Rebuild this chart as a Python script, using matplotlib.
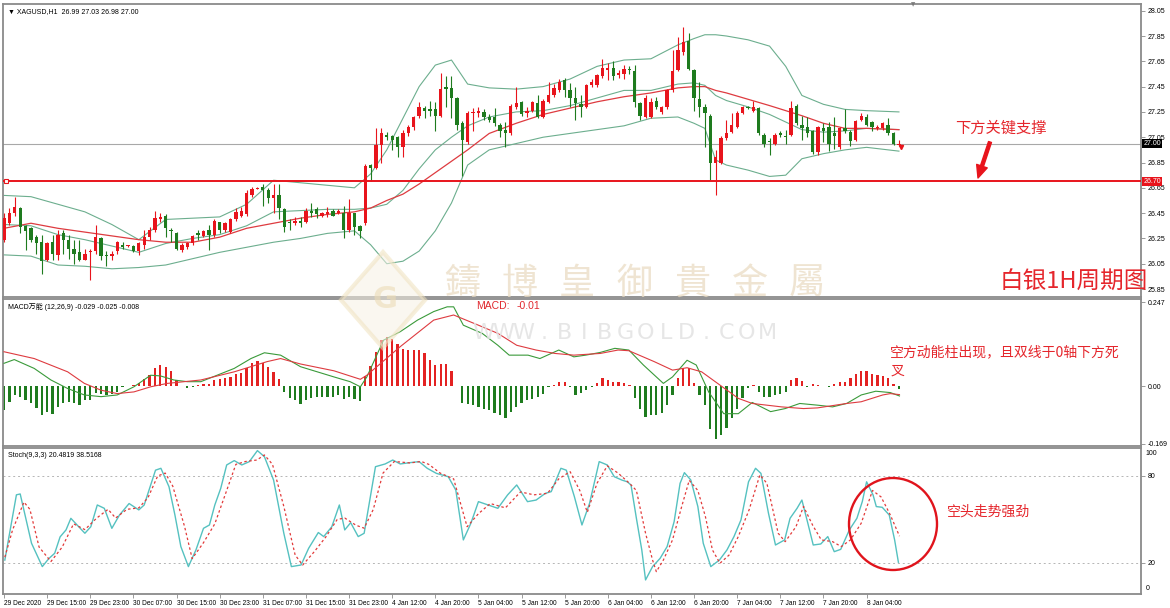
import numpy as np
import matplotlib
matplotlib.use('Agg')
import matplotlib.pyplot as plt
from matplotlib.patches import Ellipse, Polygon
from matplotlib.transforms import blended_transform_factory

plt.rcParams['font.family'] = ['DejaVu Sans', 'Noto Sans CJK SC']

# ---- XAGUSD H1 candles (bar 0 = 29 Dec 2020 07:00) ----
opens = [26.24, 26.37, 26.45, 26.49, 26.35, 26.33, 26.26, 26.22, 26.08, 26.22,
         26.12, 26.29, 26.24, 26.17, 26.14, 26.08, 26.14, 26.15, 26.25, 26.12,
         26.11, 26.15, 26.20, 26.19, 26.19, 26.15, 26.20, 26.26, 26.32, 26.40,
         26.43, 26.32, 26.29, 26.16, 26.18, 26.21, 26.29, 26.27, 26.32, 26.28,
         26.38, 26.32, 26.30, 26.40, 26.43, 26.44, 26.59, 26.64, 26.66, 26.63,
         26.57, 26.59, 26.48, 26.38, 26.37, 26.39, 26.38, 26.47, 26.48, 26.43,
         26.44, 26.47, 26.45, 26.45, 26.32, 26.45, 26.35, 26.37, 26.83, 26.81,
         26.99, 27.07, 27.06, 27.05, 26.97, 27.08, 27.13, 27.22, 27.28, 27.27,
         27.27, 27.22, 27.45, 27.44, 27.36, 27.16, 27.01, 27.24, 27.24, 27.25,
         27.21, 27.21, 27.15, 27.11, 27.08, 27.29, 27.33, 27.24, 27.26, 27.32,
         27.21, 27.33, 27.38, 27.42, 27.50, 27.42, 27.36, 27.31, 27.29, 27.46,
         27.46, 27.53, 27.58, 27.60, 27.54, 27.55, 27.59, 27.57, 27.32, 27.21,
         27.21, 27.34, 27.25, 27.29, 27.42, 27.58, 27.72, 27.81, 27.58, 27.35,
         27.29, 27.22, 26.85, 26.85, 27.04, 27.09, 27.13, 27.24, 27.29, 27.26,
         27.28, 27.07, 27.02, 27.00, 27.08, 27.06, 27.07, 27.30, 27.15, 27.13,
         27.10, 26.93, 27.12, 27.13, 27.08, 26.97, 27.12, 27.09, 27.03, 27.19,
         27.21, 27.17, 27.12, 27.12, 27.15, 27.08, 26.99]
highs = [26.45, 26.49, 26.58, 26.50, 26.36, 26.34, 26.28, 26.28, 26.22, 26.28,
         26.32, 26.32, 26.28, 26.24, 26.24, 26.17, 26.17, 26.36, 26.26, 26.15,
         26.15, 26.23, 26.22, 26.20, 26.20, 26.22, 26.32, 26.34, 26.47, 26.45,
         26.44, 26.33, 26.30, 26.21, 26.22, 26.28, 26.32, 26.32, 26.36, 26.40,
         26.38, 26.38, 26.41, 26.49, 26.50, 26.63, 26.66, 26.66, 26.68, 26.65,
         26.68, 26.68, 26.49, 26.40, 26.42, 26.42, 26.49, 26.53, 26.50, 26.46,
         26.50, 26.48, 26.48, 26.51, 26.56, 26.45, 26.36, 26.84, 26.84, 27.12,
         27.12, 27.09, 27.07, 27.06, 27.11, 27.15, 27.22, 27.33, 27.30, 27.34,
         27.33, 27.56, 27.53, 27.53, 27.37, 27.18, 27.26, 27.28, 27.29, 27.27,
         27.23, 27.28, 27.16, 27.17, 27.31, 27.45, 27.34, 27.29, 27.34, 27.38,
         27.35, 27.49, 27.47, 27.51, 27.52, 27.48, 27.45, 27.38, 27.47, 27.51,
         27.55, 27.67, 27.64, 27.65, 27.58, 27.62, 27.61, 27.62, 27.33, 27.38,
         27.36, 27.37, 27.30, 27.43, 27.74, 27.84, 27.92, 27.87, 27.59, 27.49,
         27.31, 27.23, 26.95, 27.06, 27.19, 27.24, 27.26, 27.30, 27.30, 27.34,
         27.29, 27.08, 27.04, 27.08, 27.10, 27.11, 27.34, 27.31, 27.22, 27.21,
         27.11, 27.14, 27.16, 27.17, 27.21, 27.13, 27.27, 27.11, 27.19, 27.24,
         27.23, 27.18, 27.15, 27.17, 27.20, 27.09, 27.03]
lows = [26.22, 26.36, 26.43, 26.29, 26.16, 26.22, 26.13, 25.97, 26.07, 26.08,
        26.08, 26.13, 26.09, 26.05, 26.07, 26.08, 25.92, 26.13, 26.08, 26.03,
        26.08, 26.13, 26.17, 26.18, 26.14, 26.12, 26.17, 26.24, 26.30, 26.38,
        26.26, 26.22, 26.16, 26.14, 26.17, 26.20, 26.24, 26.26, 26.16, 26.26,
        26.29, 26.30, 26.29, 26.39, 26.42, 26.43, 26.58, 26.64, 26.51, 26.53,
        26.45, 26.40, 26.30, 26.32, 26.36, 26.34, 26.37, 26.42, 26.41, 26.42,
        26.42, 26.43, 26.44, 26.25, 26.30, 26.28, 26.25, 26.36, 26.70, 26.80,
        26.85, 27.03, 26.95, 26.89, 26.89, 27.06, 27.11, 27.20, 27.20, 27.22,
        27.10, 27.21, 27.29, 27.20, 27.11, 26.74, 27.00, 27.10, 27.21, 27.19,
        27.17, 27.14, 27.05, 26.97, 27.07, 27.27, 27.22, 27.21, 27.25, 27.20,
        27.20, 27.32, 27.37, 27.41, 27.37, 27.29, 27.19, 27.21, 27.28, 27.45,
        27.45, 27.52, 27.50, 27.50, 27.52, 27.51, 27.55, 27.29, 27.19, 27.20,
        27.20, 27.27, 27.23, 27.27, 27.41, 27.57, 27.70, 27.58, 27.26, 27.21,
        26.97, 26.71, 26.59, 26.84, 27.03, 27.08, 27.12, 27.23, 27.27, 27.25,
        27.07, 26.97, 26.91, 26.99, 27.05, 27.00, 27.06, 27.15, 27.03, 27.05,
        26.92, 26.91, 27.01, 26.94, 26.96, 26.96, 27.08, 26.98, 27.02, 27.18,
        27.14, 27.10, 27.11, 27.11, 27.07, 26.99, 26.98]
closes = [26.41, 26.45, 26.50, 26.34, 26.31, 26.24, 26.21, 26.07, 26.21, 26.13,
          26.28, 26.24, 26.17, 26.13, 26.08, 26.13, 26.15, 26.26, 26.11, 26.11,
          26.13, 26.22, 26.18, 26.20, 26.15, 26.21, 26.26, 26.32, 26.41, 26.42,
          26.33, 26.31, 26.17, 26.20, 26.21, 26.27, 26.28, 26.31, 26.28, 26.39,
          26.32, 26.37, 26.40, 26.46, 26.47, 26.61, 26.64, 26.65, 26.63, 26.57,
          26.59, 26.49, 26.34, 26.37, 26.39, 26.37, 26.47, 26.45, 26.44, 26.45,
          26.46, 26.43, 26.47, 26.32, 26.45, 26.34, 26.31, 26.82, 26.81, 26.99,
          27.08, 27.05, 27.03, 26.97, 27.08, 27.13, 27.21, 27.29, 27.26, 27.26,
          27.22, 27.43, 27.43, 27.36, 27.15, 27.03, 27.24, 27.25, 27.26, 27.21,
          27.19, 27.16, 27.10, 27.08, 27.30, 27.32, 27.23, 27.26, 27.33, 27.21,
          27.34, 27.38, 27.44, 27.49, 27.42, 27.36, 27.32, 27.29, 27.46, 27.49,
          27.54, 27.60, 27.60, 27.53, 27.56, 27.59, 27.58, 27.33, 27.22, 27.36,
          27.33, 27.29, 27.29, 27.42, 27.57, 27.74, 27.80, 27.59, 27.36, 27.29,
          27.24, 26.85, 26.89, 27.04, 27.08, 27.15, 27.24, 27.29, 27.28, 27.29,
          27.08, 27.00, 27.01, 27.07, 27.07, 27.05, 27.28, 27.16, 27.12, 27.08,
          26.93, 27.13, 27.10, 27.00, 27.06, 27.12, 27.10, 27.02, 27.18, 27.22,
          27.15, 27.13, 27.13, 27.16, 27.08, 27.00, 27.00]

# Bollinger bands + red moving average, read at these bars
band_x = [0, 5, 10, 15, 20, 25, 30, 35, 40, 45, 50, 55, 60, 65, 68, 71, 74, 77, 80, 83,
          86, 90, 95, 100, 105, 110, 115, 120, 125, 128, 130, 132, 134, 138, 142, 145,
          148, 152, 156, 160, 166]
bb_upper = [26.59, 26.58, 26.52, 26.46, 26.36, 26.24, 26.40, 26.41, 26.42, 26.52, 26.71,
            26.69, 26.67, 26.65, 26.76, 26.95, 27.20, 27.45, 27.62, 27.66, 27.47, 27.44,
            27.43, 27.45, 27.51, 27.61, 27.66, 27.67, 27.78, 27.83, 27.86, 27.86, 27.85,
            27.82, 27.77, 27.61, 27.38, 27.31, 27.27, 27.26, 27.25]
bb_mid = [26.36, 26.35, 26.28, 26.24, 26.19, 26.14, 26.21, 26.25, 26.28, 26.35, 26.46,
          26.47, 26.48, 26.48, 26.49, 26.52, 26.63, 26.80, 26.95, 27.05, 27.14, 27.21,
          27.25, 27.26, 27.30, 27.36, 27.42, 27.42, 27.47, 27.48, 27.46, 27.38, 27.34,
          27.29, 27.23, 27.17, 27.11, 27.09, 27.10, 27.12, 27.11]
bb_lower = [26.12, 26.11, 26.04, 26.03, 26.01, 26.02, 26.04, 26.09, 26.14, 26.18, 26.22,
            26.25, 26.29, 26.31, 26.20, 26.05, 26.07, 26.15, 26.31, 26.53, 26.83, 26.95,
            27.00, 27.05, 27.08, 27.11, 27.14, 27.20, 27.21, 27.16, 27.12, 26.87, 26.83,
            26.79, 26.74, 26.75, 26.88, 26.92, 26.95, 26.97, 26.94]
ma_red = [26.33, 26.37, 26.33, 26.30, 26.27, 26.24, 26.22, 26.22, 26.26, 26.33, 26.37,
          26.41, 26.44, 26.46, 26.49, 26.55, 26.60, 26.68, 26.77, 26.86, 26.95, 27.08,
          27.16, 27.23, 27.28, 27.33, 27.37, 27.40, 27.44, 27.45, 27.45, 27.42, 27.40,
          27.35, 27.30, 27.26, 27.22, 27.16, 27.12, 27.12, 27.11]

# MACD histogram, one value per bar
macd_hist = [-0.070, -0.046, -0.026, -0.031, -0.041, -0.051, -0.063, -0.085, -0.075, -0.082,
             -0.061, -0.051, -0.046, -0.051, -0.056, -0.041, -0.041, -0.021, -0.023, -0.026,
             -0.023, -0.016, -0.003, 0.001, 0.002, 0.008, 0.020, 0.033, 0.052, 0.062,
             0.057, 0.045, 0.018, 0.001, -0.007, -0.002, 0.003, 0.005, 0.007, 0.017,
             0.020, 0.023, 0.028, 0.036, 0.040, 0.052, 0.068, 0.073, 0.068, 0.055,
             0.042, 0.020, -0.016, -0.036, -0.041, -0.053, -0.041, -0.036, -0.033, -0.031,
             -0.033, -0.031, -0.026, -0.039, -0.031, -0.039, -0.043, 0.030, 0.059, 0.101,
             0.135, 0.143, 0.137, 0.125, 0.110, 0.105, 0.105, 0.105, 0.096, 0.078,
             0.062, 0.066, 0.066, 0.044, 0.001, -0.051, -0.054, -0.056, -0.061, -0.066,
             -0.071, -0.080, -0.085, -0.095, -0.075, -0.061, -0.051, -0.041, -0.038, -0.031,
             -0.022, -0.004, 0.003, 0.013, 0.012, -0.004, -0.026, -0.019, -0.012, -0.004,
             0.008, 0.023, 0.018, 0.013, 0.011, 0.008, 0.002, -0.036, -0.066, -0.090,
             -0.085, -0.085, -0.080, -0.056, -0.026, 0.023, 0.054, 0.052, 0.008, -0.026,
             -0.056, -0.125, -0.154, -0.144, -0.123, -0.095, -0.066, -0.036, -0.007, 0.003,
             -0.017, -0.031, -0.031, -0.026, -0.022, -0.017, 0.018, 0.023, 0.015, -0.003,
             0.005, 0.003, 0.001, -0.002, 0.005, 0.011, 0.011, 0.023, 0.037, 0.044,
             0.044, 0.037, 0.034, 0.030, 0.023, 0.005, -0.008]

macd_x = [0, 1.9, 5.6, 8.7, 11.8, 14.9, 18, 21, 24.1, 27.2, 29, 31.5, 34, 36.5, 42.7,
          45.8, 48.3, 51.3, 55, 58.1, 61.2, 64.2, 66.1, 67.3, 70.4, 73.5, 76.7, 79.7,
          82.2, 83.4, 85.2, 88.7, 91.6, 93.7, 97.2, 99.4, 102.9, 105.7, 107.9, 110.6,
          113.3, 115.9, 118.6, 122.3, 124, 126.7, 128.4, 130.7, 133.5, 136.2, 138.8,
          142.2, 144.9, 147.6, 150.9, 153.7, 156.3, 159, 161.7, 164.4, 166.1]
macd_line = [0.067, 0.078, 0.052, 0.018, -0.007, -0.026, -0.031, -0.026, -0.002, 0.032,
             0.030, 0.018, 0.013, 0.013, 0.052, 0.081, 0.098, 0.091, 0.057, 0.042, 0.027,
             0.013, -0.002, 0.027, 0.135, 0.160, 0.194, 0.219, 0.233, 0.233, 0.179, 0.155,
             0.120, 0.091, 0.091, 0.081, 0.106, 0.086, 0.091, 0.099, 0.111, 0.106, 0.062,
             0.008, 0.027, 0.076, 0.062, -0.017, -0.081, -0.081, -0.048, -0.075, -0.066,
             -0.051, -0.056, -0.061, -0.051, -0.026, -0.015, -0.019, -0.029]
signal_x = [0, 5.6, 11.8, 14.9, 18, 21, 24.1, 27.2, 30.3, 33.4, 36.5, 42.7, 48.8, 51.3,
            55, 61.2, 66.1, 67.3, 73.5, 79.7, 83.4, 88, 91.6, 95.1, 98.7, 102.2, 105.7,
            110.6, 113.9, 115.9, 120.6, 124, 126.7, 129.4, 132.8, 136.2, 138.8, 144.2,
            148.3, 150.9, 156.3, 159, 163, 164.4, 166.1]
signal_line = [0.101, 0.081, 0.042, 0.008, -0.012, -0.022, -0.017, -0.002, 0.008, 0.013,
               0.018, 0.042, 0.072, 0.081, 0.065, 0.045, 0.020, 0.032, 0.116, 0.194,
               0.209, 0.179, 0.155, 0.120, 0.106, 0.096, 0.091, 0.096, 0.106, 0.104,
               0.072, 0.047, 0.054, 0.042, 0.003, -0.036, -0.051, -0.061, -0.066, -0.064,
               -0.051, -0.046, -0.026, -0.022, -0.025]

# Stochastic (9,3,3)
stoch_k_x = [0.15, 2.3, 3, 5.1, 7.1, 8.3, 9.4, 10.4, 11.5, 12.4, 13.6, 15, 16.1, 17.3,
             18.6, 20, 21.4, 23.2, 25, 26, 27.1, 28.1, 29.1, 30.6, 31.7, 32.8, 34.2, 35.6,
             37, 38.1, 39.1, 40.2, 41.3, 42.7, 44.1, 45.5, 47, 48.3, 50, 51.9, 53.3, 55.1,
             56.5, 58.3, 59.3, 60.8, 62.2, 63.2, 64.3, 65.7, 66.8, 68.9, 70.7, 72.1, 73.5,
             75.3, 77, 78.5, 80.2, 82.4, 83.8, 85.2, 86.6, 88, 89.8, 91.6, 93.4, 95.1,
             97.1, 98.7, 100.4, 101.5, 103.3, 104.3, 105.8, 107.2, 108.6, 110.4, 111.9,
             113.2, 114.6, 115.6, 116.3, 117.3, 118.3, 119, 120.3, 121.7, 123, 124.3,
             125.4, 126.2, 127.4, 128.7, 129.7, 131.1, 132.7, 134.1, 135.4, 136.7, 138.1,
             139.4, 140.4, 141.8, 143.1, 144.8, 145.8, 147.1, 148, 149.1, 150.1, 151.5,
             152.8, 154, 155.2, 156.8, 158.2, 159.2, 160, 161.2, 161.8, 162.9, 164.2,
             165.2, 165.9]
stoch_k = [22, 67, 67.6, 33.6, 17.5, 23, 26.7, 38, 42.8, 50.8, 46, 40.5, 45, 60, 57.7,
           43.9, 53, 61, 56.6, 60, 72.6, 84, 85.3, 72.6, 53.1, 31.3, 17.5, 29, 43.9, 46.2,
           60, 71.5, 87.6, 90.6, 87.6, 89.9, 97.5, 93.3, 77.2, 40.5, 17.5, 18.6, 30.1, 41,
           38.2, 45, 60, 42.8, 47.8, 38.2, 40.5, 86.4, 88.3, 91, 88.3, 89.2, 89.9, 85.3,
           81.8, 79.5, 70.3, 35.9, 47.4, 62.3, 60, 57.7, 66.9, 73.8, 62.3, 63.4, 68, 69.2,
           85.3, 84, 65.7, 46.2, 61, 89.9, 87.6, 79.5, 77.2, 76, 73.8, 50.8, 29, 8.3,
           17.5, 23.2, 31.3, 48.5, 74.9, 82.3, 77.2, 58.9, 33.6, 17.5, 22, 29, 38.2, 49.7,
           76, 85.3, 81.8, 54.3, 32.4, 35.9, 50.8, 57.7, 63.4, 47.4, 32.4, 33.1, 38.2,
           27.8, 29.4, 42.8, 50.8, 62.3, 76, 66.9, 58.9, 58.4, 53.1, 35.9, 20.5]
stoch_d_x = [0.15, 1.6, 3.7, 4.8, 6.5, 8.7, 10.8, 12.9, 15, 17.2, 19.3, 20.7, 22.8, 25,
             26.7, 28.5, 29.9, 31.3, 33.5, 34.9, 37, 39.1, 41.3, 43, 44.8, 46.9, 48.3,
             49.8, 51.9, 54, 55.4, 57.6, 59.7, 61.8, 63.2, 65.3, 66.8, 68.5, 70.3, 72.4,
             75.3, 77.4, 78.8, 80.9, 83.4, 85.9, 88, 90.2, 93, 95.8, 98.3, 100.8, 102.9,
             105, 106.8, 108.2, 110, 111.9, 113.9, 116, 117.3, 119, 120.3, 121, 122.3, 124,
             125.7, 127.1, 128.7, 130.1, 131.4, 132.8, 134.5, 136.2, 138.2, 140.2, 141.5,
             143.6, 144.9, 146.9, 148.3, 150, 151.6, 153.7, 155.3, 157, 159, 161.1, 162.7,
             164.4, 166.1]
stoch_d = [24, 43, 62, 57, 31, 21, 31, 47, 43, 51, 57, 51, 57, 58, 65, 80, 82, 73, 45, 23,
           34, 47, 70, 88, 90, 91, 94.5, 88, 59, 25.5, 18.6, 28, 38, 50, 51, 46, 44, 57, 82,
           90, 89, 90, 88, 82, 78, 45, 54, 61, 58, 69, 67, 68, 78, 83, 70, 55, 75, 87, 82,
           75, 70, 40.5, 22, 14, 22, 35.9, 58.9, 77, 70, 52, 29, 19.8, 25.5, 38.2, 56.6,
           80.7, 75, 40.5, 34.7, 45, 59, 46, 35.9, 34.7, 31.3, 35.9, 47.4, 70, 65.5, 53.1,
           38.5]

price_ticks = [28.05, 27.85, 27.65, 27.45, 27.25, 27.05, 26.85, 26.65, 26.45, 26.25, 26.05, 25.85]
time_pos = [0, 8, 16, 24, 32, 40, 48, 56, 64, 72, 80, 88, 96, 104, 112, 120, 128, 136, 144, 152, 160]
time_labels = ['29 Dec 2020', '29 Dec 15:00', '29 Dec 23:00', '30 Dec 07:00', '30 Dec 15:00',
               '30 Dec 23:00', '31 Dec 07:00', '31 Dec 15:00', '31 Dec 23:00', '4 Jan 12:00',
               '4 Jan 20:00', '5 Jan 04:00', '5 Jan 12:00', '5 Jan 20:00', '6 Jan 04:00',
               '6 Jan 12:00', '6 Jan 20:00', '7 Jan 04:00', '7 Jan 12:00', '7 Jan 20:00',
               '8 Jan 04:00']

last_price = 27.00
support = 26.70

RED = '#e8141c'
GREEN = '#1e7b1e'
BAND = '#6cae8e'
MA_RED = '#de3b40'
FRAME = '#8a8a8a'
NUM = 'Liberation Sans'
CJK = ['Noto Sans CJK SC', 'DejaVu Sans']

W, H = 1170, 608
fig = plt.figure(figsize=(W / 100, H / 100), dpi=100)
fig.patch.set_facecolor('white')


def fx(px):
    return px / W


def fy(py):
    return 1 - py / H


L, R = 3, 1141
ax1 = fig.add_axes([fx(L), fy(297), fx(R) - fx(L), fy(4) - fy(297)])
ax2 = fig.add_axes([fx(L), fy(446), fx(R) - fx(L), fy(299) - fy(446)])
ax3 = fig.add_axes([fx(L), fy(594), fx(R) - fx(L), fy(448) - fy(594)])

for ax in (ax1, ax2, ax3):
    ax.set_xlim(-0.19, 210.9)
    ax.yaxis.tick_right()
    ax.tick_params(axis='y', labelsize=5, length=3, width=0.6, color=FRAME, pad=2)
    for s in ax.spines.values():
        s.set_color(FRAME)
        s.set_linewidth(1.3)

# ---- price panel ----
o = np.array(opens)
c = np.array(closes)
idx = np.arange(len(c))
col = np.where(c >= o, RED, GREEN)
ax1.vlines(idx, lows, highs, colors=col, lw=0.8, zorder=3)
ax1.bar(idx, np.maximum(np.abs(c - o), 0.008), bottom=np.minimum(o, c), width=0.62,
        color=col, linewidth=0, zorder=4)

ax1.plot(band_x, bb_upper, color=BAND, lw=0.8, zorder=2)
ax1.plot(band_x, bb_lower, color=BAND, lw=0.8, zorder=2)
ax1.plot(band_x, bb_mid, color=BAND, lw=0.8, zorder=2)
ax1.plot(band_x, ma_red, color=MA_RED, lw=0.9, zorder=2)

ax1.axhline(last_price, color='#a8a8a8', lw=0.8, zorder=1)
ax1.axhline(support, color=RED, lw=1.4, zorder=5)
ax1.plot([0.3], [support], marker='s', ms=3, mfc='white', mec=RED, mew=0.8, zorder=6)
ax1.plot([166.4], [26.975], marker='v', ms=3, color=RED, zorder=6)

ax1.set_ylim(25.787, 28.103)
ax1.set_yticks(price_ticks)
ax1.set_yticklabels(['%.2f' % t for t in price_ticks], fontfamily=NUM)
ax1.set_xticks([])

tr = blended_transform_factory(ax1.transAxes, ax1.transData)
ax1.text(1.002, last_price, '%.2f' % last_price, transform=tr, fontsize=5, color='white',
         va='center', ha='left', fontfamily=NUM, zorder=10,
         bbox=dict(boxstyle='square,pad=0.15', fc='black', ec='none'))
ax1.text(1.002, support, '%.2f' % support, transform=tr, fontsize=5, color='white',
         va='center', ha='left', fontfamily=NUM, zorder=10,
         bbox=dict(boxstyle='square,pad=0.15', fc=RED, ec='none'))
ax1.text(0.004, 0.985, '\u25BC XAGUSD,H1  26.99 27.03 26.98 27.00', transform=ax1.transAxes,
         fontsize=5, va='top', ha='left', fontfamily=['Liberation Sans', 'DejaVu Sans'])

# ---- MACD panel ----
hist = np.array(macd_hist)
ax2.bar(np.arange(len(hist)), hist, width=0.42, color=np.where(hist >= 0, '#e32222', GREEN),
        linewidth=0, zorder=2)
ax2.plot(macd_x, macd_line, color='#3a9a3a', lw=0.8, zorder=3)
ax2.plot(signal_x, signal_line, color=MA_RED, lw=0.8, zorder=3)
ax2.set_ylim(-0.176, 0.256)
ax2.set_yticks([0.247, 0.0, -0.169])
ax2.set_yticklabels(['0.247', '0.00', '-0.169'], fontfamily=NUM)
ax2.set_xticks([])
ax2.text(0.004, 0.975, 'MACD万能 (12,26,9) -0.029 -0.025 -0.008', transform=ax2.transAxes,
         fontsize=5, va='top', ha='left', fontfamily=['Liberation Sans', 'Noto Sans CJK SC'])

# ---- Stochastic panel ----
ax3.axhline(80, color='#b5b5b5', lw=0.7, ls=(0, (2, 3)), zorder=1)
ax3.axhline(20, color='#b5b5b5', lw=0.7, ls=(0, (2, 3)), zorder=1)
ax3.plot(stoch_k_x, stoch_k, color='#55c1c0', lw=1.0, zorder=3)
ax3.plot(stoch_d_x, stoch_d, color='#e23a3a', lw=0.9, ls=(0, (2, 2)), zorder=3)
ax3.set_ylim(-1.4, 99.3)
ax3.set_yticks([80, 20])
ax3.set_yticklabels(['80', '20'], fontfamily=NUM)
ax3.text(1.004, 0.965, '100', transform=ax3.transAxes, fontsize=5, va='center', ha='left',
         fontfamily=NUM)
ax3.text(1.004, 0.04, '0', transform=ax3.transAxes, fontsize=5, va='center', ha='left',
         fontfamily=NUM)
ax3.set_xticks(time_pos)
ax3.set_xticklabels(time_labels, fontsize=4.8, ha='left', fontfamily=NUM)
ax3.tick_params(axis='x', length=3, width=0.6, color=FRAME, pad=1.5)
ax3.text(0.004, 0.975, 'Stoch(9,3,3) 20.4819 38.5168', transform=ax3.transAxes,
         fontsize=5, va='top', ha='left', fontfamily=NUM)

# ---- watermark (logo, company name, site) ----
fig.add_artist(Polygon([[fx(383), fy(252)], [fx(425), fy(300)], [fx(383), fy(348)], [fx(341), fy(300)]],
                       closed=True, transform=fig.transFigure, fc='#f7f1e5', ec='#f0e2bf',
                       lw=3, alpha=0.55, zorder=19))
fig.text(fx(385), fy(300), 'G', fontsize=22, color='#ecdcb6', alpha=0.6, ha='center',
         va='center', family='DejaVu Sans', fontweight='bold', zorder=20)
for k, ch in enumerate('鑄博皇御貴金屬'):
    fig.text(fx(462 + 57.5 * k), fy(284), ch, fontsize=26, color='#eadcc3', alpha=0.75,
             ha='center', va='center', family=['Noto Sans CJK TC', 'DejaVu Sans'], zorder=20)
for k, ch in enumerate('WWW.BIBGOLD.COM'):
    fig.text(fx(483 + 20.3 * k), fy(333), ch, fontsize=16, color='#e2e2e2', alpha=0.85,
             ha='center', va='center', family='DejaVu Sans', zorder=20)

# ---- annotations ----
fig.text(fx(476), fy(306), 'MACD:', fontsize=7.5, color='#e0282e', va='center', family=NUM)
fig.text(fx(517), fy(306), '-0.01', fontsize=7.5, color='#e0282e', va='center', family=NUM)
fig.text(fx(913), fy(5), '\u25BC', fontsize=4, color='#7a7a7a', ha='center', va='center')

fig.text(fx(955), fy(128), '下方关键支撑', fontsize=11, color='#e5262c', va='center', family=CJK)
fig.text(fx(1000), fy(282), '白银1H周期图', fontsize=17, color='#e5262c', va='center', family=CJK)
fig.text(fx(890), fy(352), '空方动能柱出现，且双线于0轴下方死', fontsize=10, color='#e5262c',
         va='center', family=CJK)
fig.text(fx(891), fy(371), '叉', fontsize=10, color='#e5262c', va='center', family=CJK)
fig.text(fx(947), fy(512), '空头走势强劲', fontsize=10, color='#e5262c', va='center', family=CJK)

arrow = dict(arrowstyle='simple,head_length=0.9,head_width=0.8,tail_width=0.22',
             color=RED, shrinkA=0, shrinkB=0, mutation_scale=10)
for (x1, y1, x2, y2) in [(990, 142, 978, 178), (908, 384, 941, 408), (897, 403, 918, 419)]:
    ax1.annotate('', xy=(x2, H - y2), xytext=(x1, H - y1), xycoords='figure pixels',
                 textcoords='figure pixels', arrowprops=arrow, annotation_clip=False)

fig.add_artist(Ellipse((fx(893), fy(524)), 88 / W, 92 / H, transform=fig.transFigure,
                       fill=False, ec='#e0141c', lw=1.7))

fig.savefig('out.png', dpi=100)
